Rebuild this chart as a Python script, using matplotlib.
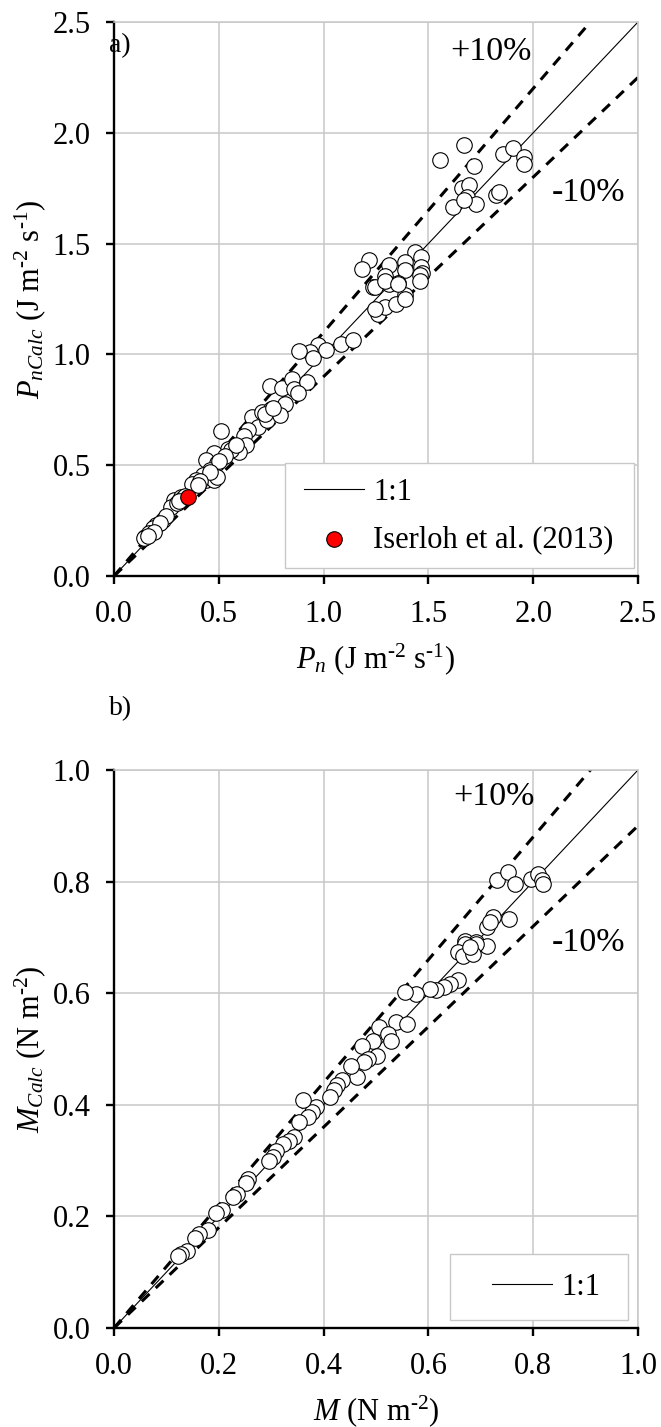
import matplotlib
matplotlib.use("Agg")
import matplotlib.pyplot as plt
from matplotlib.patches import Rectangle
import numpy as np

plt.rcParams['font.family'] = ['Liberation Serif', 'DejaVu Serif']
plt.rcParams['mathtext.fontset'] = 'custom'
plt.rcParams['mathtext.rm'] = 'Liberation Serif'
plt.rcParams['mathtext.it'] = 'Liberation Serif:italic'
plt.rcParams['mathtext.bf'] = 'Liberation Serif:bold'

# ---------------- data panel a ----------------
pn_obs = [1.668, 1.557, 1.719, 1.855, 1.906, 1.954, 1.954, 1.659, 1.693, 1.685, 1.617, 1.728, 1.668,
          1.821, 1.838,
          1.434, 1.216, 1.182, 1.313, 1.386, 1.463, 1.463, 1.468, 1.458, 1.386, 1.293, 1.238, 1.310,
          1.356, 1.386, 1.244, 1.295, 1.355, 1.458, 1.261, 1.295, 1.347, 1.389, 1.244,
          0.971, 0.936, 0.882, 1.013, 1.082, 1.138, 0.950,
          0.745, 0.803, 0.851, 0.860, 0.919, 0.878,
          0.660, 0.706, 0.748, 0.783, 0.817, 0.689, 0.731, 0.791, 0.72, 0.76, 0.64, 0.62,
          0.509, 0.543, 0.629, 0.595, 0.475, 0.441, 0.492, 0.458, 0.424, 0.390, 0.373, 0.441,
          0.475, 0.492, 0.56, 0.58, 0.53, 0.50, 0.46, 0.41, 0.40,
          0.287, 0.321, 0.270, 0.236, 0.202, 0.185, 0.150, 0.167, 0.142, 0.30, 0.33, 0.25, 0.22,
          0.34, 0.31, 0.19, 0.16]
pn_calc = [1.947, 1.877, 1.849, 1.904, 1.932, 1.891, 1.861, 1.749, 1.764, 1.711, 1.666, 1.678, 1.696,
           1.718, 1.733,
           1.462, 1.428, 1.387, 1.402, 1.417, 1.440, 1.395, 1.367, 1.357, 1.383, 1.352, 1.304, 1.319,
           1.322, 1.267, 1.303, 1.333, 1.318, 1.333, 1.183, 1.213, 1.228, 1.251, 1.206,
           1.041, 1.011, 1.014, 1.018, 1.045, 1.063, 0.985,
           0.856, 0.850, 0.890, 0.845, 0.875, 0.826,
           0.718, 0.740, 0.755, 0.748, 0.778, 0.673, 0.703, 0.725, 0.73, 0.76, 0.66, 0.63,
           0.655, 0.575, 0.590, 0.560, 0.553, 0.523, 0.508, 0.477, 0.455, 0.432, 0.417, 0.432,
           0.432, 0.447, 0.57, 0.59, 0.54, 0.52, 0.47, 0.43, 0.41,
           0.342, 0.357, 0.312, 0.252, 0.230, 0.215, 0.177, 0.192, 0.170, 0.33, 0.35, 0.27, 0.24,
           0.36, 0.34, 0.20, 0.18]
iserloh_obs = [0.355]
iserloh_calc = [0.357]

# ---------------- data panel b ----------------
m_obs = [0.731, 0.751, 0.765, 0.796, 0.810, 0.816, 0.818, 0.724, 0.753, 0.711, 0.717, 0.669, 0.690,
         0.711, 0.690, 0.669, 0.656, 0.666, 0.686, 0.679,
         0.656, 0.642, 0.629, 0.614, 0.604, 0.577, 0.556,
         0.539, 0.560, 0.505, 0.495, 0.522, 0.529, 0.474, 0.501, 0.484, 0.478, 0.464, 0.453,
         0.436, 0.426, 0.419, 0.412, 0.385, 0.378, 0.371, 0.361, 0.354,
         0.344, 0.334, 0.323, 0.310, 0.303, 0.296, 0.255,
         0.252, 0.235, 0.227, 0.207, 0.195, 0.179, 0.163, 0.155, 0.139, 0.127, 0.123]
m_calc = [0.802, 0.817, 0.796, 0.805, 0.814, 0.802, 0.796, 0.736, 0.733, 0.718, 0.727, 0.694, 0.691,
          0.685, 0.688, 0.688, 0.673, 0.667, 0.670, 0.682,
          0.623, 0.617, 0.611, 0.605, 0.608, 0.599, 0.602,
          0.548, 0.545, 0.539, 0.515, 0.527, 0.515, 0.506, 0.488, 0.482, 0.476, 0.450, 0.470,
          0.444, 0.435, 0.426, 0.414, 0.396, 0.387, 0.378, 0.408, 0.369,
          0.342, 0.336, 0.330, 0.318, 0.306, 0.300, 0.267,
          0.259, 0.241, 0.235, 0.212, 0.206, 0.176, 0.168, 0.162, 0.138, 0.132, 0.129]

ticks_a = [0.0, 0.5, 1.0, 1.5, 2.0, 2.5]
ticks_b = [0.0, 0.2, 0.4, 0.6, 0.8, 1.0]

FS = 22
FS_PCT = 24.5
HY = '\u2010'
GRID = '#c8c8c8'
W, H = 661, 1427
fig = plt.figure(figsize=(W / 100, H / 100), dpi=100)

def px_axes(l, r, t, b):
    return fig.add_axes([l / W, 1 - b / H, (r - l) / W, (b - t) / H])

ax_a = px_axes(114, 638, 22, 576)
ax_b = px_axes(114, 638, 770, 1328)

def style(ax, lim, ticks):
    ax.set_xlim(0, lim)
    ax.set_ylim(0, lim)
    ax.set_xticks(ticks)
    ax.set_yticks(ticks)
    ax.set_xticklabels([f"{t:.1f}" for t in ticks], fontsize=FS)
    ax.set_yticklabels([f"{t:.1f}" for t in ticks], fontsize=FS)
    ax.grid(True, color=GRID, lw=1.1, zorder=0)
    ax.set_axisbelow(True)
    for s in ['top', 'right']:
        ax.spines[s].set_color(GRID)
        ax.spines[s].set_linewidth(1.1)
    for s in ['left', 'bottom']:
        ax.spines[s].set_color('black')
        ax.spines[s].set_linewidth(1.7)
    ax.tick_params(direction='out', length=6, width=1.7, pad=11, color='black')
    xs = np.array([0, lim])
    ax.plot(xs, xs, color='black', lw=0.8, zorder=2, label='1:1')
    ax.plot(xs, 1.1 * xs, color='black', lw=2.2, ls=(0, (3.5, 2.8)), zorder=2)
    ax.plot(xs, 0.9 * xs, color='black', lw=2.2, ls=(0, (3.5, 2.8)), zorder=2)

def legend_box(ax, x0, y0, x1, y1):
    ax.add_patch(Rectangle((x0, y0), x1 - x0, y1 - y0, transform=ax.transAxes,
                           facecolor='white', edgecolor=GRID, lw=1.0, zorder=5))

# ---- panel a ----
style(ax_a, 2.5, ticks_a)
ax_a.scatter(pn_obs, pn_calc, s=125, facecolor='white', edgecolor='black', lw=0.8, zorder=3)
ax_a.scatter(iserloh_obs, iserloh_calc, s=125, facecolor='#ff0000', edgecolor='black', lw=0.8,
             zorder=4, label='Iserloh et al. (2013)')
ax_a.text(-0.01, 0.958, 'a)', transform=ax_a.transAxes, fontsize=FS - 2, ha='left', va='center')
ax_a.text(0.72, 0.946, '+10%', transform=ax_a.transAxes, fontsize=FS_PCT, ha='center', va='center')
ax_a.text(0.905, 0.692, '-10%', transform=ax_a.transAxes, fontsize=FS_PCT, ha='center', va='center')
ax_a.set_xlabel(r'$P_n$ (J m$^{' + HY + r'2}$ s$^{' + HY + r'1}$)', fontsize=FS, labelpad=9)
ax_a.set_ylabel(r'$P_{nCalc}$ (J m$^{' + HY + r'2}$ s$^{' + HY + r'1}$)', fontsize=FS, labelpad=3)
legend_box(ax_a, 0.327, 0.0145, 0.992, 0.204)
leg = ax_a.legend(loc='center left', bbox_to_anchor=(0.363, 0.108), fontsize=FS, frameon=False,
                  borderpad=0, labelspacing=0.6, handlelength=1.95, handletextpad=0.3,
                  borderaxespad=0)
leg.set_zorder(6)

# ---- panel b ----
style(ax_b, 1.0, ticks_b)
ax_b.scatter(m_obs, m_calc, s=125, facecolor='white', edgecolor='black', lw=0.8, zorder=3)
fig.text(109 / W, 1 - 709 / H, 'b)', fontsize=FS - 2, ha='left', va='center')
ax_b.text(0.726, 0.952, '+10%', transform=ax_b.transAxes, fontsize=FS_PCT, ha='center', va='center')
ax_b.text(0.905, 0.69, '-10%', transform=ax_b.transAxes, fontsize=FS_PCT, ha='center', va='center')
ax_b.set_xlabel(r'$M$ (N m$^{' + HY + r'2}$)', fontsize=FS, labelpad=9)
ax_b.set_ylabel(r'$M_{Calc}$ (N m$^{' + HY + r'2}$)', fontsize=FS, labelpad=3)
legend_box(ax_b, 0.641, 0.0143, 0.981, 0.133)
leg2 = ax_b.legend(loc='center left', bbox_to_anchor=(0.722, 0.073), fontsize=FS, frameon=False,
                   borderpad=0, handlelength=1.95, handletextpad=0.3, borderaxespad=0)
leg2.set_zorder(6)

fig.savefig('out.png', dpi=100)
